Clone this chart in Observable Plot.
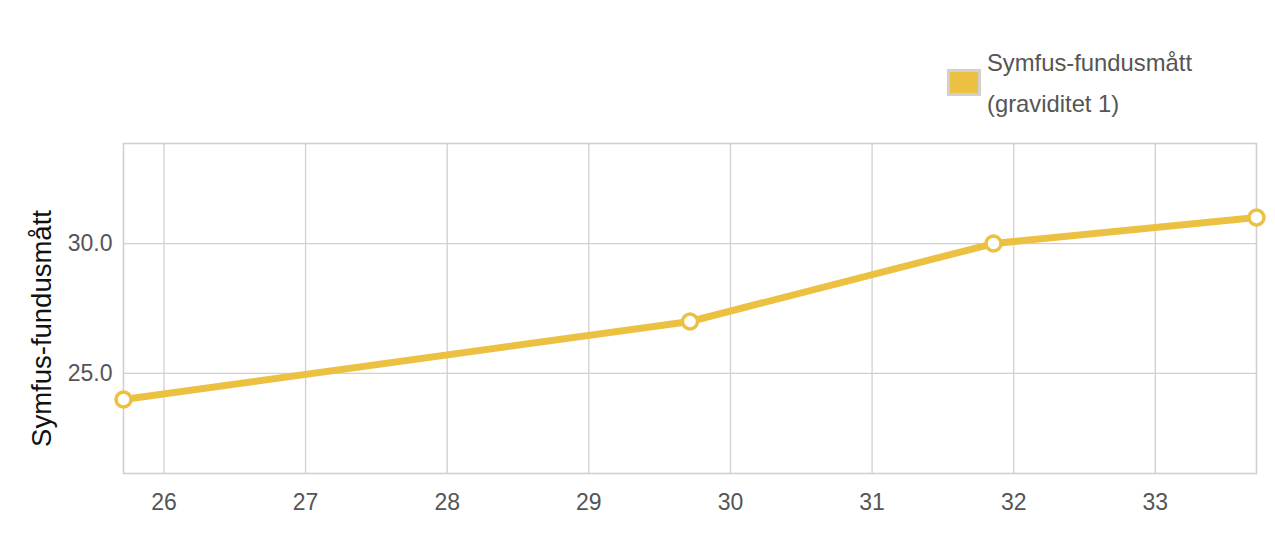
<!DOCTYPE html>
<html><head><meta charset="utf-8">
<script src="https://cdn.jsdelivr.net/npm/d3@7"></script>
<script src="https://cdn.jsdelivr.net/npm/@observablehq/plot@0.6"></script>
<style>
body{margin:0;background:#fff;font-family:"Liberation Sans",Arial,sans-serif;}
#wrap{position:relative;width:1275px;height:553px;}
#legend{position:relative;width:1275px;height:120px;}
.sw{position:absolute;left:947px;top:69px;width:28px;height:21px;background:#ecc142;border:3px solid #d0d0d0;}
.lt{position:absolute;left:987px;color:#555;font-size:23.8px;white-space:nowrap;line-height:1;}
svg{overflow:visible;}
</style></head>
<body><div id="wrap"><div id="legend"><div class="sw"></div><div class="lt" style="top:51px">Symfus-fundusmått</div><div class="lt" style="top:92px">(graviditet 1)</div></div><div id="chart"></div></div>
<script>
const weeks = [25 + 5/7, 29 + 5/7, 31 + 6/7, 33 + 5/7];
const values = [24, 27, 30, 31];
const xTicks = [26, 27, 28, 29, 30, 31, 32, 33];
const yTicks = [25, 30];
const yLabel = "Symfus-fundusmått";
const color = "#ecc142";

const data = weeks.map((w, i) => ({w, v: values[i]}));

const chart = Plot.plot({
  width: 1275,
  height: 433,
  marginTop: 23,
  marginBottom: 80,
  marginLeft: 123,
  marginRight: 19,
  style: {fontFamily: '"Liberation Sans", Arial, sans-serif', background: "#fff", overflow: "visible"},
  x: {domain: [weeks[0], weeks[weeks.length - 1]], ticks: xTicks, label: null, tickFormat: d3.format("d")},
  y: {domain: [21.15, 33.85], ticks: yTicks, label: null, tickFormat: d3.format(".1f")},
  marks: [
    Plot.gridX(xTicks, {stroke: "#d0d0d0", strokeOpacity: 1, strokeWidth: 1.3}),
    Plot.gridY(yTicks, {stroke: "#d0d0d0", strokeOpacity: 1, strokeWidth: 1.3}),
    Plot.frame({stroke: "#d0d0d0", strokeWidth: 1.6}),
    Plot.axisX(xTicks, {tickSize: 0, tickPadding: 20, fontSize: 23, fill: "#555", tickFormat: d3.format("d")}),
    Plot.axisY(yTicks, {tickSize: 0, tickPadding: 11, fontSize: 23, fill: "#555", tickFormat: d3.format(".1f")}),
    Plot.text([yLabel], {frameAnchor: "left", textAnchor: "middle", rotate: -90, dx: -81, dy: 20, fontSize: 27.5, fill: "#111"}),
    Plot.line(data, {x: "w", y: "v", stroke: color, strokeWidth: 7}),
    Plot.dot(data, {x: "w", y: "v", r: 7.5, fill: "#fff", stroke: color, strokeWidth: 3.5})
  ]
});
document.getElementById("chart").appendChild(chart);
</script></body></html>
